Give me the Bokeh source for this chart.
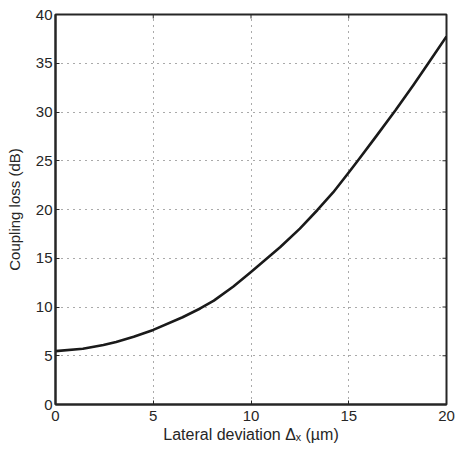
import math
from bokeh.plotting import figure
from bokeh.models import Range1d, FixedTicker
from bokeh.embed import file_html
from bokeh.resources import INLINE

# values
x_um = [0, 1.4, 2.45, 3.1, 4, 5, 6.5, 7.4, 8.1, 9.1, 10, 11.5, 12.5, 13.4,
        14.2, 15, 15.5, 16.4, 17.4, 18.3, 19, 20]
loss_db = [5.47, 5.72, 6.1, 6.42, 6.95, 7.65, 8.95, 9.85, 10.65, 12.1, 13.58,
           16.15, 18.04, 19.95, 21.75, 23.8, 25.1, 27.5, 30.2, 32.75, 34.8, 37.75]
x_ticks = [0, 5, 10, 15, 20]
y_ticks = [0, 5, 10, 15, 20, 25, 30, 35, 40]
x_label = "Lateral deviation \u0394\u2093 (\u00b5m)"
y_label = "Coupling loss (dB)"

FONT = "Liberation Sans"
INK = "#262626"
X0, X1, Y0, Y1 = 0, 20, 0, 40

p = figure(output_backend="svg", toolbar_location=None,
           frame_width=391, frame_height=390,
           x_range=Range1d(X0, X1), y_range=Range1d(Y0, Y1),
           min_border_left=55, min_border_right=9, min_border_top=14, min_border_bottom=46,
           background_fill_color="white", border_fill_color="white")
p.outline_line_color = INK
p.outline_line_width = 2

for ax in (p.xaxis[0], p.yaxis[0]):
    ax.axis_line_color = INK
    ax.axis_line_width = 2
    ax.major_tick_in = 4
    ax.major_tick_out = 0
    ax.minor_tick_line_color = None
    ax.major_tick_line_color = INK
    ax.major_tick_line_width = 1
    ax.major_label_text_font = FONT
    ax.major_label_text_font_size = "15px"
    ax.major_label_text_color = INK
    ax.axis_label_text_font = FONT
    ax.axis_label_text_font_style = "normal"
    ax.axis_label_text_color = INK

p.xaxis[0].ticker = FixedTicker(ticks=x_ticks)
p.yaxis[0].ticker = FixedTicker(ticks=y_ticks)
p.xaxis[0].axis_label = x_label
p.xaxis[0].axis_label_text_font_size = "16px"
p.xaxis[0].major_label_standoff = 6
p.xaxis[0].axis_label_standoff = 2
p.yaxis[0].axis_label = y_label
p.yaxis[0].axis_label_text_font_size = "15px"
p.yaxis[0].major_label_standoff = 3
p.yaxis[0].axis_label_standoff = 10

# inward ticks on the top and right edges of the box
p.ray(x=x_ticks, y=Y1, length=4, length_units="screen", angle=-math.pi / 2,
      line_color=INK, line_width=1)
p.ray(x=X1, y=y_ticks, length=4, length_units="screen", angle=math.pi,
      line_color=INK, line_width=1)

p.xgrid.ticker = FixedTicker(ticks=x_ticks)
p.ygrid.ticker = FixedTicker(ticks=y_ticks)
for g in (p.xgrid[0], p.ygrid[0]):
    g.grid_line_color = "#555555"
    g.grid_line_dash = "1 5"
    g.grid_line_width = 1

p.line(x_um, loss_db, line_color="#1a1a1a", line_width=2.6, line_join="round")

open("out.html", "w").write(file_html(p, INLINE))
